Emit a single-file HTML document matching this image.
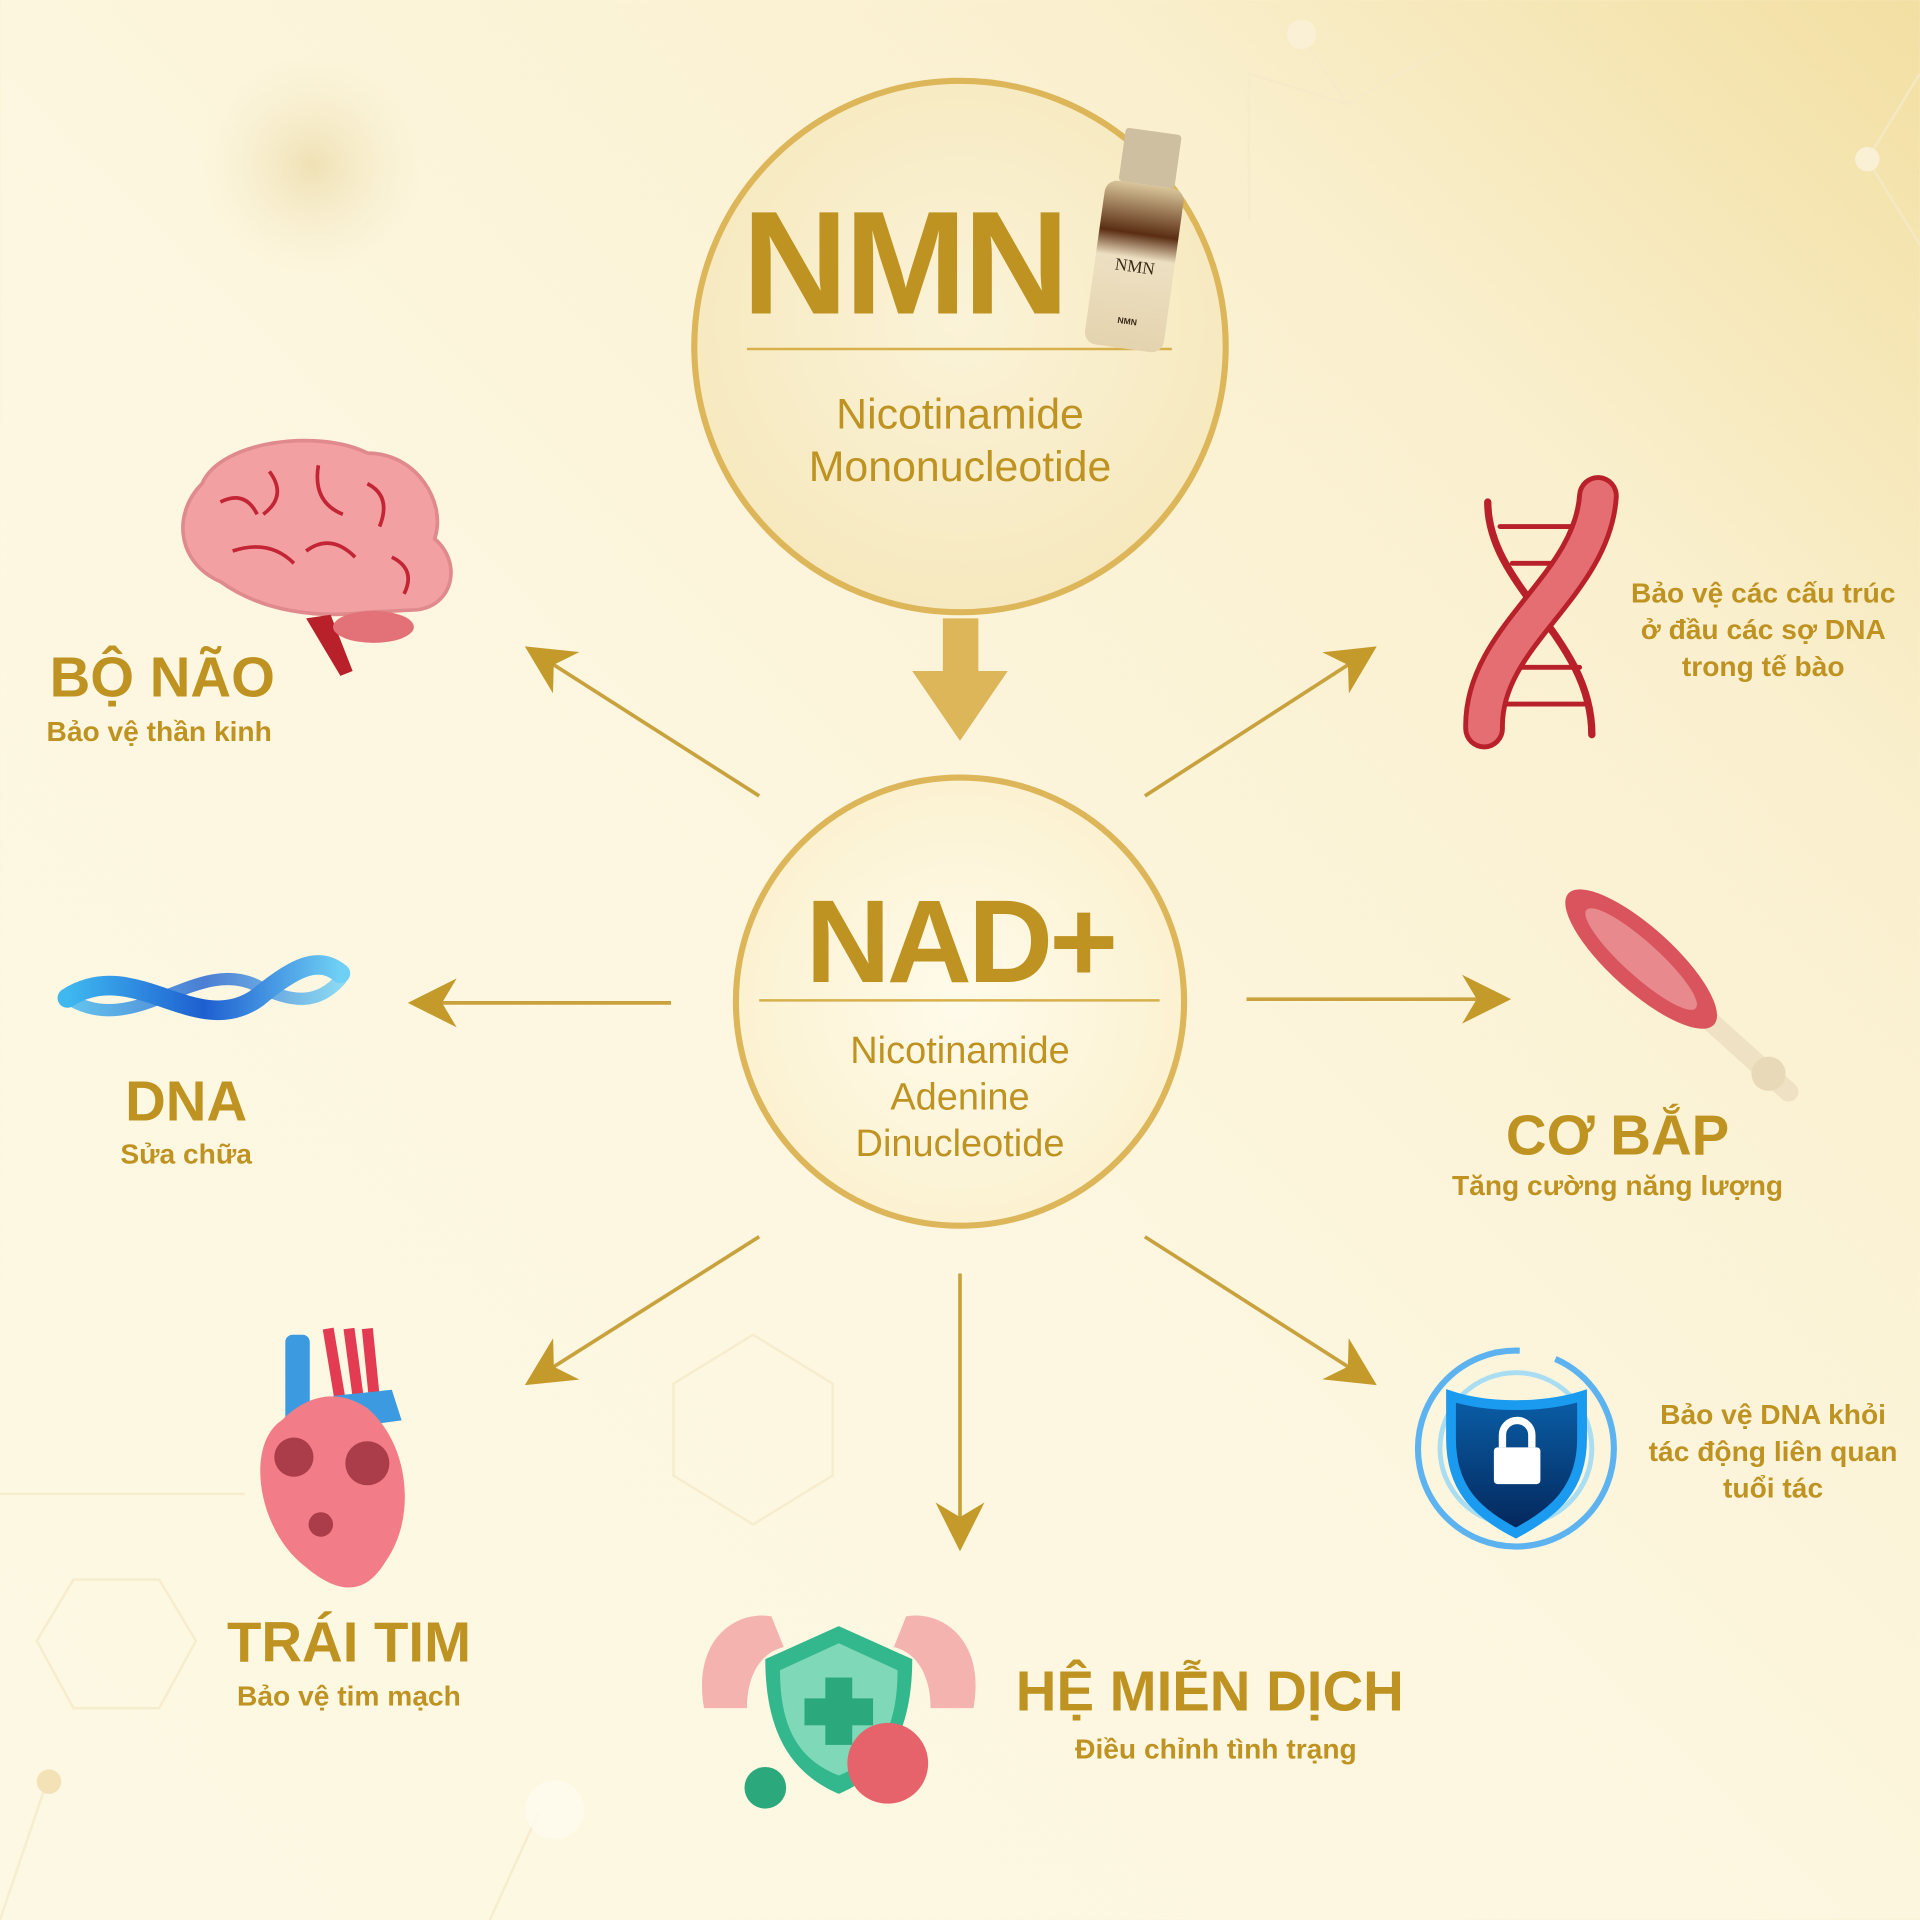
<!DOCTYPE html>
<html><head><meta charset="utf-8">
<style>
html,body{margin:0;padding:0;width:1920px;height:1920px;overflow:hidden;}
body{background:linear-gradient(225deg,#F2DFA2 0%,#FAF0CF 22%,#FDF7E1 55%,#FDF8E3 100%);}
#w{position:absolute;left:0;top:0;width:1568px;height:1568px;transform:scale(1.2244898);transform-origin:0 0;font-family:"Liberation Sans",sans-serif;color:#BF9322;}
.t{position:absolute;text-align:center;font-weight:bold;white-space:nowrap;}
.s{font-size:23px;}
</style></head><body>
<div id="w">
<svg width="1568" height="1568" style="position:absolute;left:0;top:0">
<defs>
<radialGradient id="cg" cx="0.5" cy="0.45" r="0.6"><stop offset="0" stop-color="#FBF3D8"/><stop offset="1" stop-color="#F6E8BC"/></radialGradient>
<radialGradient id="cg2" cx="0.5" cy="0.5" r="0.6"><stop offset="0" stop-color="#FFFBEB"/><stop offset="1" stop-color="#FBF0CC"/></radialGradient>
<radialGradient id="blob" cx="0.5" cy="0.5" r="0.5"><stop offset="0" stop-color="#E6D39A" stop-opacity="0.6"/><stop offset="1" stop-color="#F5E8C0" stop-opacity="0"/></radialGradient>
<linearGradient id="bot" x1="0" y1="0" x2="0" y2="1"><stop offset="0" stop-color="#D9C59A"/><stop offset="0.3" stop-color="#5A2D12"/><stop offset="0.45" stop-color="#EDE0C2"/><stop offset="1" stop-color="#E4D3AE"/></linearGradient>
<linearGradient id="sh" x1="0" y1="0" x2="0" y2="1"><stop offset="0" stop-color="#0A5FA8"/><stop offset="1" stop-color="#04265A"/></linearGradient>
<linearGradient id="dna" x1="0" y1="0" x2="1" y2="0"><stop offset="0" stop-color="#3FB8F0"/><stop offset="0.5" stop-color="#1E5FD0"/><stop offset="1" stop-color="#6FD0F5"/></linearGradient>
<marker id="ah" viewBox="0 0 40 40" refX="36" refY="20" markerWidth="40" markerHeight="40" markerUnits="userSpaceOnUse" orient="auto"><path d="M0,0 L40,20 L0,40 L12,20 Z" fill="#C49A2A"/></marker>
</defs>
<circle cx="255" cy="135" r="90" fill="url(#blob)"/>
<g stroke="#F5EAC9" stroke-width="2" fill="none" opacity="0.8">
<path d="M1060,25 L1100,85 L1180,40 M1100,85 L1020,60 L1020,180 M1525,130 L1568,200 M1525,130 L1568,60"/>
<path d="M30,1340 L60,1290 L130,1290 L160,1340 L130,1395 L60,1395 Z M550,1130 L615,1090 L680,1130 L680,1205 L615,1245 L550,1205 Z"/>
<path d="M0,1220 L200,1220 M40,1450 L0,1568 M440,1480 L400,1568"/>
</g>
<circle cx="1063" cy="28" r="12" fill="#FAF0D5"/><circle cx="1525" cy="130" r="10" fill="#FAF0D5"/>
<circle cx="453" cy="1478" r="24" fill="#FFFBEF" opacity="0.8"/><circle cx="40" cy="1455" r="10" fill="#F2E2B5"/>
<circle cx="784" cy="283" r="217" fill="url(#cg)" stroke="#DDB659" stroke-width="5"/>
<line x1="610" y1="285" x2="957" y2="285" stroke="#D7AF4B" stroke-width="2"/>
<g transform="rotate(8 927 195)">
<rect x="897" y="150" width="65" height="135" rx="10" fill="url(#bot)"/>
<rect x="907" y="106" width="46" height="44" rx="3" fill="#CDBF9F"/>
<text x="930" y="222" font-family="Liberation Serif" font-size="14" fill="#3a2a1a" text-anchor="middle">NMN</text>
<text x="930" y="265" font-size="7" fill="#3a2a1a" text-anchor="middle" font-weight="bold">NMN</text>
</g>
<rect x="770" y="505" width="29" height="48" fill="#DDB659"/>
<path d="M745,548 L823,548 L784,605 Z" fill="#DDB659"/>
<circle cx="784" cy="818" r="183" fill="url(#cg2)" stroke="#DDB659" stroke-width="5"/>
<line x1="620" y1="817" x2="947" y2="817" stroke="#D7AF4B" stroke-width="2"/>
<g stroke="#C9A23E" stroke-width="3" marker-end="url(#ah)">
<line x1="620" y1="650" x2="432" y2="530"/>
<line x1="935" y1="650" x2="1121" y2="530"/>
<line x1="548" y1="819" x2="337" y2="819"/>
<line x1="1018" y1="816" x2="1230" y2="816"/>
<line x1="620" y1="1010" x2="432" y2="1129"/>
<line x1="784" y1="1040" x2="784" y2="1263"/>
<line x1="935" y1="1010" x2="1121" y2="1129"/>
</g>
<path d="M165,395 C180,360 260,350 300,370 C340,370 365,410 355,440 C378,460 370,495 340,498 L300,500 C260,505 215,500 180,475 C145,460 140,420 165,395 Z" fill="#F3A0A2" stroke="#E08A8E" stroke-width="3"/>
<path d="M270,502 L288,548 L278,552 L250,505 Z" fill="#B9212A"/>
<ellipse cx="305" cy="512" rx="33" ry="13" fill="#E27278"/>
<g stroke="#C32535" stroke-width="3" fill="none"><path d="M180,410 q20,-10 30,10 M220,385 q15,20 -5,35 M260,380 q-5,30 20,40 M300,395 q20,10 10,35 M190,450 q30,-10 50,10 M250,450 q20,-15 40,5 M320,455 q20,10 10,30"/></g>
<g fill="none" stroke-linecap="round">
<path d="M1215,410 C1215,480 1300,520 1300,600" stroke="#B9212A" stroke-width="6"/>
<g stroke="#B9212A" stroke-width="4"><line x1="1225" y1="430" x2="1290" y2="430"/><line x1="1235" y1="460" x2="1275" y2="460"/><line x1="1240" y1="545" x2="1290" y2="545"/><line x1="1230" y1="575" x2="1295" y2="575"/></g>
<path d="M1305,405 C1300,480 1210,520 1212,595" stroke="#B9212A" stroke-width="34"/>
<path d="M1305,405 C1300,480 1210,520 1212,595" stroke="#E46E72" stroke-width="26"/>
</g>
<g fill="none" stroke="url(#dna)" stroke-width="16" stroke-linecap="round">
<path d="M55,815 C110,780 160,850 210,815 C240,790 260,780 278,795"/>
<path d="M55,815 C110,850 160,780 210,805 C240,820 260,820 278,800" stroke-width="10" opacity="0.8"/>
</g>
<!-- muscle: top-left to bottom-right -->
<g transform="rotate(42 1370 810)">
<rect x="1290" y="802" width="210" height="16" rx="8" fill="#EFE2C4"/>
<ellipse cx="1470" cy="810" rx="14" ry="14" fill="#E8DAB8"/>
<ellipse cx="1330" cy="810" rx="80" ry="26" fill="#D9545C"/>
<ellipse cx="1330" cy="810" rx="60" ry="14" fill="#E8898D"/>
</g>
<rect x="233" y="1090" width="20" height="80" rx="6" fill="#3C9BE0"/>
<path d="M285,1085 l8,60 M300,1085 l6,60 M268,1085 l10,60" stroke="#E23B52" stroke-width="9"/>
<path d="M272,1140 L320,1135 L328,1160 L290,1165 Z" fill="#3C9BE0"/>
<path d="M230,1160 C200,1180 210,1250 250,1280 C280,1305 300,1300 315,1275 C340,1240 335,1180 300,1150 C270,1130 245,1145 230,1160 Z" fill="#F27C87"/>
<circle cx="240" cy="1190" r="16" fill="#7A1420" opacity="0.6"/><circle cx="300" cy="1195" r="18" fill="#7A1420" opacity="0.6"/><circle cx="262" cy="1245" r="10" fill="#7A1420" opacity="0.6"/>
<path d="M575,1395 C565,1340 600,1315 630,1320 L640,1345 C620,1350 610,1370 610,1395 Z" fill="#F4B3AE"/>
<path d="M795,1395 C805,1340 770,1315 740,1320 L730,1345 C750,1350 760,1370 760,1395 Z" fill="#F4B3AE"/>
<path d="M685,1328 L745,1355 C745,1420 720,1450 685,1465 C650,1450 625,1420 625,1355 Z" fill="#32B88C"/>
<path d="M685,1342 L733,1364 C733,1415 715,1438 685,1450 C655,1438 637,1415 637,1364 Z" fill="#7FD8B7"/>
<rect x="674" y="1370" width="22" height="55" fill="#2BA97C"/><rect x="657" y="1387" width="56" height="22" fill="#2BA97C"/>
<circle cx="725" cy="1440" r="33" fill="#E7636B"/><circle cx="625" cy="1460" r="17" fill="#2BA97C"/>
<circle cx="1238" cy="1183" r="80" fill="none" stroke="#5DB3F0" stroke-width="5" stroke-dasharray="380 30"/>
<circle cx="1238" cy="1183" r="62" fill="none" stroke="#A8DDF2" stroke-width="4"/>
<path d="M1185,1140 C1215,1150 1260,1150 1292,1140 L1292,1175 C1292,1215 1270,1235 1238,1252 C1205,1235 1185,1215 1185,1175 Z" fill="url(#sh)" stroke="#1A9BF0" stroke-width="8"/>
<rect x="1220" y="1182" width="38" height="30" rx="3" fill="#fff"/>
<path d="M1227,1182 v-10 a12,12 0 0 1 24,0 v10" stroke="#fff" stroke-width="6" fill="none"/>
</svg>

<div class="t" style="left:606px;top:150px;font-size:120px;letter-spacing:-3px;line-height:130px;">NMN</div>
<div class="t" style="left:584px;top:317px;width:400px;font-size:35px;font-weight:normal;line-height:43px;">Nicotinamide<br>Mononucleotide</div>
<div class="t" style="left:584px;top:720px;width:400px;font-size:96px;line-height:100px;letter-spacing:-3px;">NAD+</div>
<div class="t" style="left:584px;top:839px;width:400px;font-size:31px;font-weight:normal;line-height:38px;">Nicotinamide<br>Adenine<br>Dinucleotide</div>

<div class="t" style="left:0px;top:526px;width:265px;font-size:46px;">BỘ NÃO</div>
<div class="t s" style="left:0px;top:584px;width:260px;">Bảo vệ thần kinh</div>
<div class="t" style="left:52px;top:872px;width:200px;font-size:46px;">DNA</div>
<div class="t s" style="left:52px;top:929px;width:200px;">Sửa chữa</div>
<div class="t" style="left:135px;top:1314px;width:300px;font-size:46px;">TRÁI TIM</div>
<div class="t s" style="left:135px;top:1372px;width:300px;">Bảo vệ tim mạch</div>
<div class="t" style="left:808px;top:1354px;width:360px;font-size:46px;">HỆ MIỄN DỊCH</div>
<div class="t s" style="left:808px;top:1415px;width:370px;">Điều chỉnh tình trạng</div>
<div class="t" style="left:1171px;top:900px;width:300px;font-size:46px;">CƠ BẮP</div>
<div class="t s" style="left:1151px;top:955px;width:340px;">Tăng cường năng lượng</div>
<div class="t s" style="left:1290px;top:469px;width:300px;line-height:30px;">Bảo vệ các cấu trúc<br>ở đầu các sợ DNA<br>trong tế bào</div>
<div class="t s" style="left:1298px;top:1140px;width:300px;line-height:30px;">Bảo vệ DNA khỏi<br>tác động liên quan<br>tuổi tác</div>
</div>
</body></html>
